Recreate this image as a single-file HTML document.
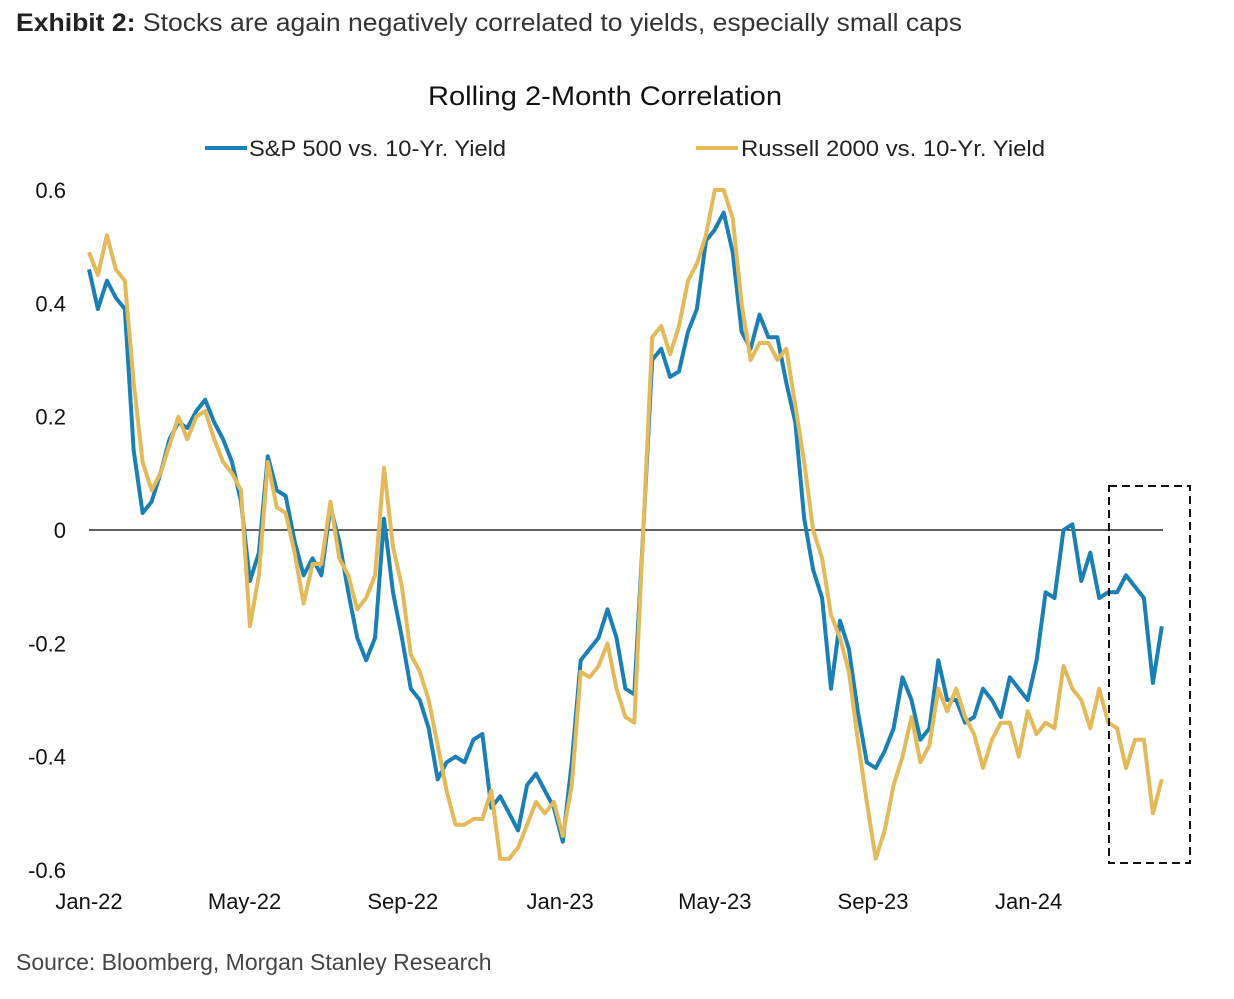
<!DOCTYPE html>
<html><head><meta charset="utf-8"><style>
body{margin:0;background:#fff;font-family:"Liberation Sans",sans-serif;}
svg text{font-family:"Liberation Sans",sans-serif;}
</style></head><body>
<svg width="1234" height="994">
<text x="16" y="31" font-size="25" fill="#333" textLength="946" lengthAdjust="spacingAndGlyphs"><tspan font-weight="bold" fill="#222">Exhibit 2:</tspan> Stocks are again negatively correlated to yields, especially small caps</text>
<text x="428" y="105" font-size="27" fill="#111" textLength="354" lengthAdjust="spacingAndGlyphs">Rolling 2-Month Correlation</text>
<g>
<line x1="205" y1="148" x2="247" y2="148" stroke="#1a7fb5" stroke-width="4"/>
<text x="249" y="156" font-size="22" fill="#222" textLength="257" lengthAdjust="spacingAndGlyphs">S&amp;P 500 vs. 10-Yr. Yield</text>
<line x1="696" y1="148" x2="738" y2="148" stroke="#e3b95a" stroke-width="4"/>
<text x="741" y="156" font-size="22" fill="#222" textLength="304" lengthAdjust="spacingAndGlyphs">Russell 2000 vs. 10-Yr. Yield</text>
</g>
<g id="yaxis"></g>
<g id="xaxis"></g>
<line x1="89" y1="530" x2="1163" y2="530" stroke="#000" stroke-width="1.2"/>
<g id="series"></g>
<rect x="1109" y="486" width="81" height="377" fill="none" stroke="#111" stroke-width="2" stroke-dasharray="8,5"/>
<text x="16" y="970" font-size="23" fill="#444">Source: Bloomberg, Morgan Stanley Research</text>
</svg>
<script>
const yTicks=[0.6,0.4,0.2,0,-0.2,-0.4,-0.6];
const yTickLabels=["0.6","0.4","0.2","0","-0.2","-0.4","-0.6"];
const xTickLabels=["Jan-22","May-22","Sep-22","Jan-23","May-23","Sep-23","Jan-24"];
const xTickWeeks=[0,17.4,35.1,52.7,70.0,87.7,105.1];
const sp500=[0.46,0.39,0.44,0.41,0.39,0.14,0.03,0.05,0.10,0.16,0.19,0.18,0.21,0.23,0.19,0.16,0.12,0.05,-0.09,-0.04,0.13,0.07,0.06,-0.02,-0.08,-0.05,-0.08,0.04,-0.02,-0.11,-0.19,-0.23,-0.19,0.02,-0.11,-0.19,-0.28,-0.30,-0.35,-0.44,-0.41,-0.40,-0.41,-0.37,-0.36,-0.49,-0.47,-0.50,-0.53,-0.45,-0.43,-0.46,-0.49,-0.55,-0.41,-0.23,-0.21,-0.19,-0.14,-0.19,-0.28,-0.29,0.0,0.30,0.32,0.27,0.28,0.35,0.39,0.51,0.53,0.56,0.49,0.35,0.32,0.38,0.34,0.34,0.26,0.19,0.02,-0.07,-0.12,-0.28,-0.16,-0.21,-0.32,-0.41,-0.42,-0.39,-0.35,-0.26,-0.30,-0.37,-0.35,-0.23,-0.30,-0.30,-0.34,-0.33,-0.28,-0.30,-0.33,-0.26,-0.28,-0.30,-0.23,-0.11,-0.12,0.0,0.01,-0.09,-0.04,-0.12,-0.11,-0.11,-0.08,-0.10,-0.12,-0.27,-0.17];
const russell=[0.49,0.45,0.52,0.46,0.44,0.26,0.12,0.07,0.10,0.15,0.20,0.16,0.20,0.21,0.16,0.12,0.10,0.07,-0.17,-0.08,0.12,0.04,0.03,-0.04,-0.13,-0.06,-0.06,0.05,-0.05,-0.08,-0.14,-0.12,-0.08,0.11,-0.03,-0.10,-0.22,-0.25,-0.30,-0.38,-0.46,-0.52,-0.52,-0.51,-0.51,-0.46,-0.58,-0.58,-0.56,-0.52,-0.48,-0.50,-0.48,-0.54,-0.45,-0.25,-0.26,-0.24,-0.20,-0.28,-0.33,-0.34,0.0,0.34,0.36,0.31,0.36,0.44,0.47,0.52,0.60,0.60,0.55,0.40,0.30,0.33,0.33,0.30,0.32,0.22,0.12,0.00,-0.05,-0.15,-0.19,-0.25,-0.37,-0.48,-0.58,-0.53,-0.45,-0.40,-0.33,-0.41,-0.38,-0.28,-0.32,-0.28,-0.33,-0.36,-0.42,-0.37,-0.34,-0.34,-0.40,-0.32,-0.36,-0.34,-0.35,-0.24,-0.28,-0.30,-0.35,-0.28,-0.34,-0.35,-0.42,-0.37,-0.37,-0.50,-0.44];
const NS="http://www.w3.org/2000/svg";
const xs=w=>89+w*8.94;
const ys=v=>530-v*566.7;
const ya=document.getElementById('yaxis');
yTicks.forEach((t,i)=>{const e=document.createElementNS(NS,'text');
e.setAttribute('x',66);e.setAttribute('y',ys(t)+8);e.setAttribute('font-size',22);e.setAttribute('text-anchor','end');e.setAttribute('fill','#111');


e.textContent=yTickLabels[i];ya.appendChild(e);});
const xa=document.getElementById('xaxis');
xTickLabels.forEach((l,i)=>{const e=document.createElementNS(NS,'text');
e.setAttribute('x',xs(xTickWeeks[i]));e.setAttribute('y',909);e.setAttribute('font-size',22);e.setAttribute('text-anchor','middle');e.setAttribute('fill','#111');


e.textContent=l;xa.appendChild(e);});
const sg=document.getElementById('series');
function line(arr,color,name){const p=document.createElementNS(NS,'polyline');
p.setAttribute('points',arr.map((v,i)=>xs(i).toFixed(1)+','+ys(v).toFixed(1)).join(' '));
p.setAttribute('fill','none');p.setAttribute('stroke',color);p.setAttribute('stroke-width',4);p.setAttribute('stroke-linejoin','round');


sg.appendChild(p);}
line(sp500,'#1a7fb5','sp500-line');
line(russell,'#e3b95a','russell-line');
</script>
</body></html>
